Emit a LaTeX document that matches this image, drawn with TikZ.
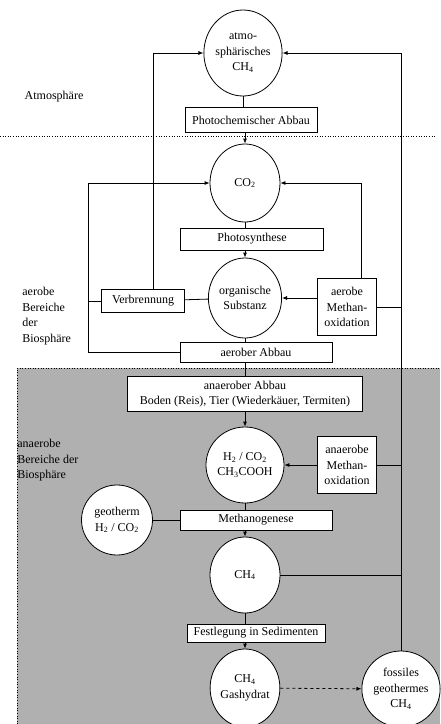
\documentclass[tikz,border=0pt]{standalone}
\usepackage{fontspec}
\setmainfont{Liberation Serif}
\usetikzlibrary{arrows.meta, shapes.geometric}
\definecolor{cshade}{HTML}{B0B0B0}
\tikzset{
  every picture/.style={line width=0.8pt},
  pool/.style={ellipse, draw, fill=white, align=center, inner sep=0pt},
  proc/.style={draw, fill=white, align=center, inner sep=2pt},
  arrow/.style={-{Latex[length=5pt, width=4pt]}},
  region/.style={align=left, inner sep=0pt},
}
\newcommand{\chem}[1]{\textsubscript{#1}}

\begin{document}
\begin{tikzpicture}[x=1pt, y=-1pt, font=\fontsize{12}{15.5}\selectfont]
  \useasboundingbox (0,0) rectangle (440,724);
  % shaded anaerobic part
  \fill[cshade] (17,368) rectangle (440,724);
  \draw[dotted, line width=0.6pt] (17,724) -- (17,368) -- (440,368);
  \draw[dotted, line width=0.6pt] (0,136) -- (436,136);

  \node[region] (atm) at (54,97) {Atmosphäre};
  \node[region, anchor=north west] (aer) at (22,287) {aerobe\\Bereiche\\der\\Biosphäre};
  \node[region, anchor=north west] (anaer) at (17,439) {anaerobe\\Bereiche der\\Biosphäre};

  % pools
  \node[pool, minimum width=76pt, minimum height=86pt] (atmo) at (243,53) {atmo-\\sphärisches\\CH\chem{4}};
  \node[pool, minimum width=70pt, minimum height=78pt] (co2) at (245,183) {CO\chem{2}};
  \node[pool, minimum width=66pt, minimum height=80pt] (orgsub) at (245,298) {organische\\Substanz};
  \node[pool, minimum width=70pt, minimum height=76pt] (h2) at (245,465) {H\chem{2} / CO\chem{2}\\CH\chem{3}COOH};
  \node[pool, minimum width=71pt, minimum height=70pt] (geotherm) at (117,520) {geotherm\\H\chem{2} / CO\chem{2}};
  \node[pool, minimum width=70pt, minimum height=76pt] (ch4) at (245,575) {CH\chem{4}};
  \node[pool, minimum width=68pt, minimum height=78pt] (hydrat) at (245,688) {CH\chem{4}\\Gashydrat};
  \node[pool, minimum width=72pt, minimum height=76pt] (fossil) at (401,689) {fossiles\\geothermes\\CH\chem{4}};

  % processes
  \node[proc, minimum width=132pt, minimum height=25pt] (photochem) at (251,120) {Photochemischer Abbau};
  \node[proc, minimum width=143pt, minimum height=22pt] (photosyn) at (252,239) {Photosynthese};
  \node[proc, minimum width=83pt, minimum height=23pt] (verbr) at (143,301) {Verbrennung};
  \node[proc, minimum width=59pt, minimum height=57pt] (aeroxid) at (347,307) {aerobe\\Methan-\\oxidation};
  \node[proc, minimum width=152pt, minimum height=20pt] (aerabbau) at (256,352) {aerober Abbau};
  \node[proc, minimum width=235pt, minimum height=35pt] (anabbau) at (245,394) {anaerober Abbau\\Boden (Reis), Tier (Wiederkäuer, Termiten)};
  \node[proc, minimum width=59pt, minimum height=57pt] (anoxid) at (347,465) {anaerobe\\Methan-\\oxidation};
  \node[proc, minimum width=152pt, minimum height=20pt] (methano) at (256,520) {Methanogenese};
  \node[proc, minimum width=138pt, minimum height=18pt] (festleg) at (256,633) {Festlegung in Sedimenten};

  % main chain
  \foreach \a/\b in {atmo/photochem, co2/photosyn, orgsub/aerabbau, h2/methano, ch4/festleg}
    \draw (\a.south) -- (\a.south |- \b.north);
  \foreach \a/\b in {photochem/co2, photosyn/orgsub, anabbau/h2, methano/ch4, festleg/hydrat}
    \draw[arrow] (\b.north |- \a.south) -- (\b.north);
  \draw (anabbau.north |- aerabbau.south) -- (anabbau.north);

  % left side: back to CO2 and atmosphere
  \coordinate (lft) at (88,183);
  \draw[arrow] (aerabbau.west) -| (lft) -- (co2.west);
  \draw (verbr.west) -- (verbr.west -| lft);
  \draw (verbr) -- (orgsub);
  \draw[arrow] ([xshift=10pt]verbr.north) |- (atmo.west);
  \draw (geotherm) -- (methano);

  % right side: methane paths
  \draw[arrow] ([xshift=14pt]aeroxid.north) |- (co2.east);
  \draw[arrow] (aeroxid.west |- orgsub) -- (orgsub.east);
  \draw[arrow] (anoxid) -- (h2);
  \draw[arrow] (fossil.north) |- (atmo.east);
  \foreach \n in {aeroxid, anoxid, ch4}
    \draw (\n.east) -- (\n.east -| fossil.north);
  \draw[arrow, dashed] (hydrat) -- (fossil);
\end{tikzpicture}
\end{document}
